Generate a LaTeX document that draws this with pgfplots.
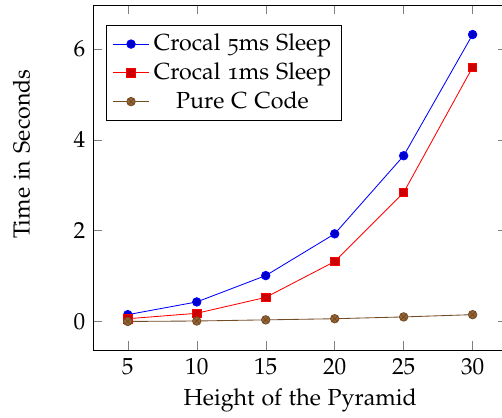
\documentclass[11pt,border=0pt]{standalone}
\usepackage[T1]{fontenc}
\usepackage[osf]{mathpazo}
\usepackage{pgfplots}
\pgfplotsset{compat=1.18}
\begin{document}
\begin{tikzpicture}
\begin{axis}[
  name=ax,
  scale only axis,
  width=195.1pt, height=162.7pt,
  xmin=2.5, xmax=32.5,
  ymin=-0.63, ymax=6.97,
  xtick={5,10,15,20,25,30},
  ytick={0,2,4,6},
  xlabel={Height of the Pyramid},
  ylabel={Time in Seconds},
  ylabel style={yshift=13pt, xshift=11pt},
  xlabel style={yshift=1pt},
  legend style={at={(0.03,0.942)},anchor=north west},
  legend cell align=center,
]
\addplot coordinates {(5,0.15) (10,0.43) (15,1.01) (20,1.93) (25,3.65) (30,6.32)};
\addplot coordinates {(5,0.06) (10,0.18) (15,0.53) (20,1.32) (25,2.84) (30,5.60)};
\addplot coordinates {(5,0.00) (10,0.01) (15,0.035) (20,0.06) (25,0.10) (30,0.15)};
\legend{Crocal 5ms Sleep, Crocal 1ms Sleep, Pure C Code}
\end{axis}
\pgfresetboundingbox
\path[use as bounding box] ([xshift=-44pt,yshift=-31.6pt]ax.south west) rectangle ([xshift=-2.4pt,yshift=2.36pt]ax.north east);
\end{tikzpicture}
\end{document}
